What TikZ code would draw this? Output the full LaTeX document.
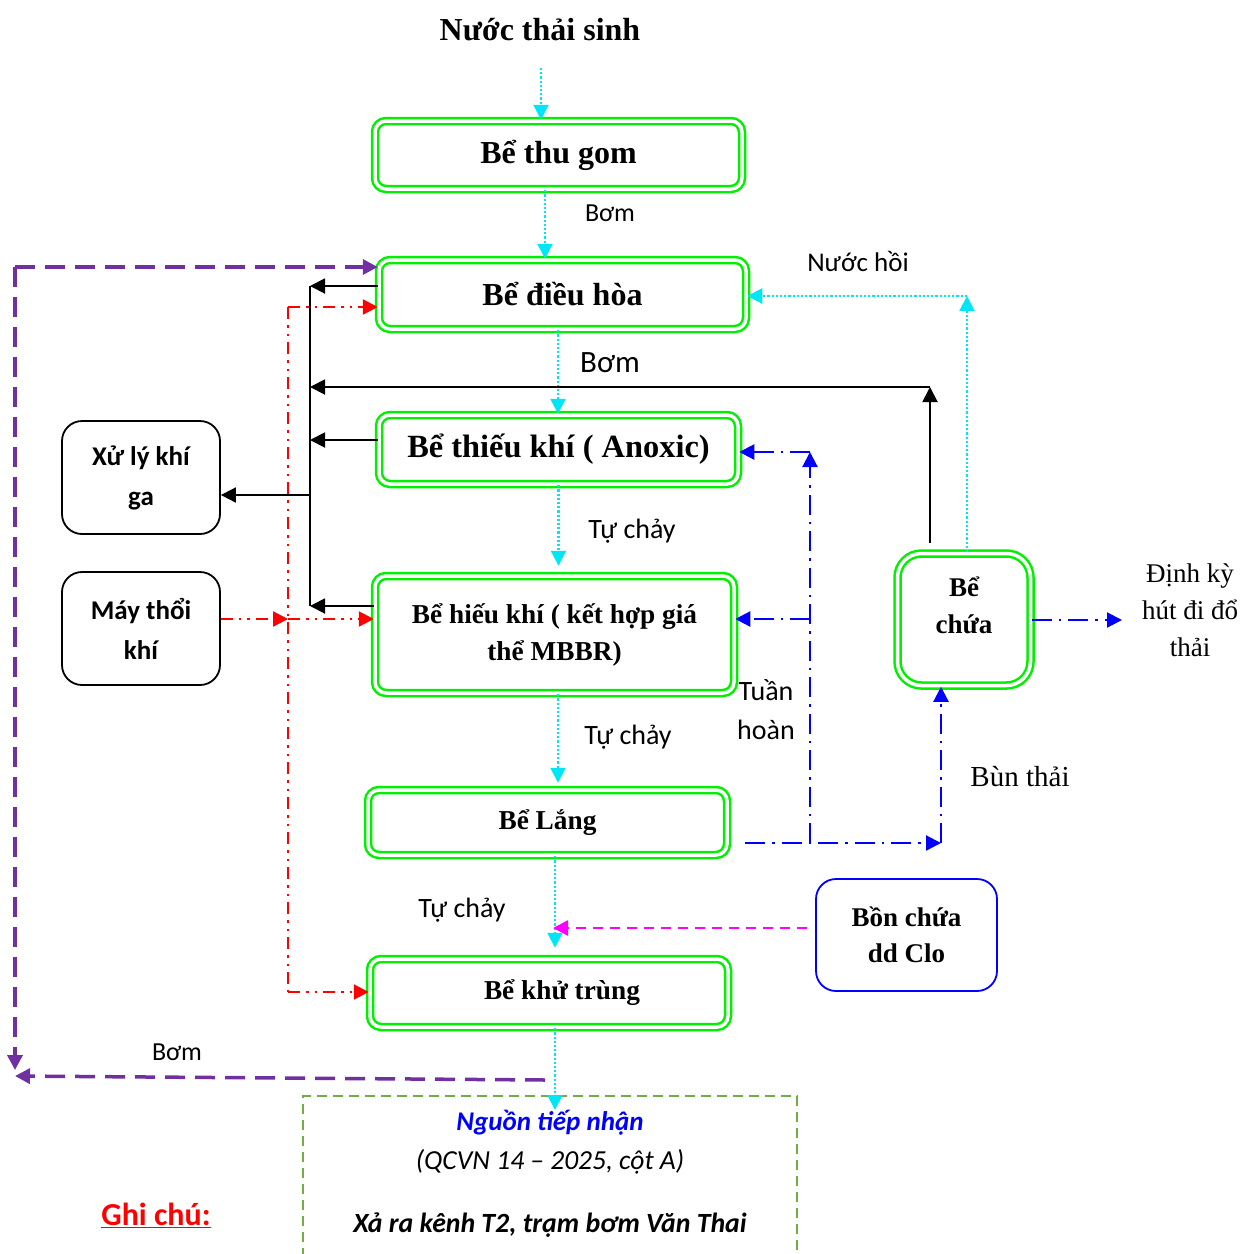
\documentclass[tikz,border=0pt]{standalone}
\usepackage{fontspec}
\setmainfont{Liberation Serif}
\newfontfamily\calib{Carlito}
\usetikzlibrary{arrows.meta}
\definecolor{tankgreen}{RGB}{0,240,0}
\definecolor{flowcyan}{RGB}{0,230,245}
\definecolor{retpurple}{RGB}{112,48,160}
\definecolor{boxdash}{RGB}{112,173,71}
\definecolor{clomag}{RGB}{255,0,255}
\tikzset{
  headtip/.style={-{Triangle[length=15pt,width=15pt]}},
  tank/.style={draw=tankgreen, double=white, double distance=3.5pt, line width=2.5pt,
    rounded corners=11pt, align=center, inner sep=0pt, font=\bfseries\fontsize{27.3}{37}\selectfont},
  unit/.style={draw, line width=1.8pt, rounded corners=20pt, align=center,
    minimum width=158pt, minimum height=113pt, font=\calib\bfseries\fontsize{27}{40}\selectfont},
  lbl/.style={font=\calib\fontsize{28}{39}\selectfont, align=center},
  serlbl/.style={font=\fontsize{27}{37}\selectfont, align=center},
  flow/.style={flowcyan, line width=2.2pt, dash pattern=on 2.2pt off 2pt, headtip},
  gas/.style={black, line width=1.9pt, headtip},
  air/.style={red, line width=2.2pt, dash pattern=on 12pt off 6pt on 2.5pt off 6pt on 2.5pt off 6pt, headtip},
  mud/.style={blue, line width=2.2pt, dash pattern=on 20pt off 7pt on 2.5pt off 7pt, headtip},
  ret/.style={retpurple, line width=3.5pt, dash pattern=on 20pt off 10pt, headtip},
  clo/.style={clomag, line width=2.4pt, dash pattern=on 10pt off 7pt, headtip},
}
\begin{document}
\begin{tikzpicture}[x=1pt,y=-1pt]
  \useasboundingbox (0,0) rectangle (1242,1254);
  \node[font=\bfseries\fontsize{32}{36}\selectfont] (src) at (540,30) {Nước thải sinh};
  \node[tank, minimum width=367pt, minimum height=68pt, font=\bfseries\fontsize{32}{38}\selectfont] (thugom) at (558.5,155) {Bể thu gom};
  \node[tank, minimum width=367pt, minimum height=69pt, font=\bfseries\fontsize{32}{38}\selectfont] (dieuhoa) at (562.5,294.5) {Bể điều hòa};
  \node[tank, minimum width=359pt, minimum height=69pt, font=\bfseries\fontsize{32.4}{38}\selectfont] (anoxic) at (558.5,449.5) {Bể thiếu khí ( Anoxic)};
  \node[tank, minimum width=359pt, minimum height=117pt] (mbbr) at (554.5,634.5) {Bể hiếu khí ( kết hợp giá\\thể MBBR)};
  \node[tank, minimum width=359pt, minimum height=65pt] (lang) at (547.5,822.5) {Bể Lắng};
  \node[tank, minimum width=358pt, minimum height=68pt] (khutrung) at (549,993) {\hspace*{26pt}Bể khử trùng};
  \node[tank, minimum width=133pt, minimum height=132pt, rounded corners=24pt,
    label={[yshift=14pt, align=center, font=\bfseries\fontsize{27}{37}\selectfont]center:Bể\\chứa}] (bechua) at (964,619.5) {};
  \node[unit] (khiga) at (141,477.5) {Xử lý khí\\ga};
  \node[unit] (maythoi) at (141,628.5) {Máy thổi\\khí};
  \node[unit, draw=blue, minimum width=181pt, minimum height=112pt, font=\bfseries\fontsize{27}{36}\selectfont] (clo) at (906.5,935) {Bồn chứa\\dd Clo};
  \node[draw=boxdash, line width=2pt, dash pattern=on 10pt off 6pt, minimum width=494pt, minimum height=220pt] (nhan) at (550,1206) {};
  \node[font=\calib\bfseries\itshape\fontsize{27}{30}\selectfont, text=blue] (nguon) at (550,1123) {Nguồn tiếp nhận};
  \node[font=\calib\itshape\fontsize{27.5}{30}\selectfont] (qcvn) at (550,1162) {(QCVN 14 – 2025, cột A)};
  \node[font=\calib\bfseries\itshape\fontsize{27.8}{30}\selectfont] (xa) at (550,1225) {Xả ra kênh T2, trạm bơm Văn Thai};
  \node[font=\calib\bfseries\fontsize{32}{36}\selectfont, text=red] (ghichu) at (156,1215) {\underline{Ghi chú:}};
  \node[lbl, font=\calib\fontsize{26}{30}\selectfont] (bom1) at (610,213) {Bơm};
  \node[lbl, font=\calib\fontsize{27}{30}\selectfont] (nuochoi) at (858,261) {Nước hồi};
  \node[lbl, font=\calib\fontsize{31}{34}\selectfont] (bom2) at (610,363) {Bơm};
  \node[lbl] (tuchay1) at (632,531) {Tự chảy};
  \node[lbl] (tuchay2) at (628,737) {Tự chảy};
  \node[lbl] (tuchay3) at (462,910) {Tự chảy};
  \node[lbl] (tuanhoan) at (766,710) {Tuần\\hoàn};
  \node[lbl, font=\calib\fontsize{26}{30}\selectfont] (bom3) at (177,1052) {Bơm};
  \node[serlbl, font=\fontsize{29}{34}\selectfont] (bunthai) at (1020,777) {Bùn thải};
  \node[serlbl] (dinhky) at (1190,610) {Định kỳ\\hút đi đổ\\thải};
  \coordinate (in1) at (541,68);
  \coordinate (out1) at (555,1110);
  \coordinate (nh) at (967,296);
  \coordinate (gt) at (310,286);
  \coordinate (gb) at (310,606);
  \coordinate (gj) at (310,495);
  \coordinate (st) at (930,387);
  \coordinate (sb) at (930,543);
  \coordinate (at) at (288,307);
  \coordinate (am) at (288,619);
  \coordinate (ab) at (288,992);
  \coordinate (lo) at (745,843);
  \coordinate (mj) at (941,843);
  \coordinate (rc1) at (810,843);
  \coordinate (rc2) at (810,452);
  \coordinate (rc3) at (810,619);
  \coordinate (dk) at (1122,620);
  \coordinate (cl) at (553,928);
  \coordinate (pb) at (545,1080);
  \coordinate (pc) at (15,1076);
  \coordinate (pt) at (15,267);
  \coordinate (pd) at (15,1070);
  % water line
  \draw[flow] (in1) -- (in1 |- thugom.north);
  \draw[flow] ([xshift=-13.5pt]thugom.south) -- ([xshift=-13.5pt]thugom.south |- dieuhoa.north);
  \draw[flow] ([xshift=-4.5pt]dieuhoa.south) -- ([xshift=-4.5pt]dieuhoa.south |- anoxic.north);
  \draw[flow, shorten >=9pt] (anoxic.south) -- (anoxic.south |- mbbr.north);
  \draw[flow, shorten >=6pt] ([xshift=3.5pt]mbbr.south) -- ([xshift=3.5pt]mbbr.south |- lang.north);
  \draw[flow, shorten >=10pt] ([xshift=7.5pt]lang.south) -- ([xshift=7.5pt]lang.south |- khutrung.north);
  \draw[flow] ([xshift=6pt]khutrung.south) -- (out1);
  \draw[flow] ([xshift=3pt]bechua.north) -- (nh);
  \draw[flow] (nh) -- (nh -| dieuhoa.east);
  % gas
  \draw[black, line width=1.9pt] (gt) -- (gb);
  \draw[gas] ([yshift=8.5pt]dieuhoa.west) -- (gt);
  \draw[gas] ([yshift=9.5pt]anoxic.west) -- ([yshift=9.5pt]anoxic.west -| gt);
  \draw[gas] ([yshift=28.5pt]mbbr.west) -- (gb);
  \draw[gas] (gj) -- (gj -| khiga.east);
  \draw[gas] (sb) -- (st);
  \draw[gas] (st) -- (st -| gt);
  % air
  \draw[red, line width=2.2pt, dash pattern=on 12pt off 6pt on 2.5pt off 6pt on 2.5pt off 6pt] (at) -- (ab);
  \draw[air] (at) -- (at -| dieuhoa.west);
  \draw[air] (am -| maythoi.east) -- (am);
  \draw[air] (am) -- (am -| mbbr.west);
  \draw[air] (ab) -- (ab -| khutrung.west);
  % sludge
  \draw[mud] (lo) -- (mj);
  \draw[mud] (mj) -- (mj |- bechua.south);
  \draw[mud] (rc1) -- (rc2);
  \draw[mud] (rc2) -- (rc2 -| anoxic.east);
  \draw[mud] (rc3) -- (rc3 -| mbbr.east);
  \draw[mud] (bechua.east |- dk) -- (dk);
  % chlorine
  \draw[clo] ([xshift=-8pt, yshift=7pt]clo.west) -- (cl);
  % return
  \draw[ret] (pb) -- (pc);
  \draw[ret] (pt) -- (pd);
  \draw[ret] (pt) -- (pt -| dieuhoa.west);
\end{tikzpicture}
\end{document}
